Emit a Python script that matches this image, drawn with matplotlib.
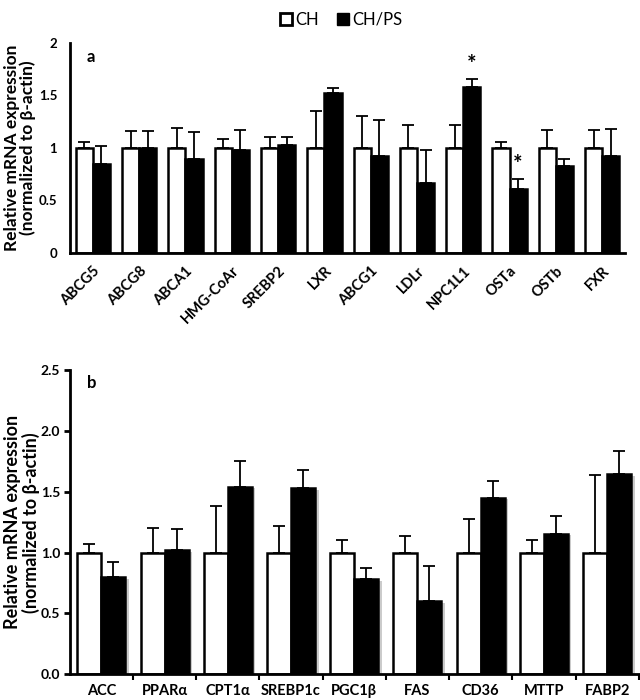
import matplotlib
matplotlib.use('Agg')
import matplotlib.pyplot as plt
import matplotlib.patheffects as pe
from matplotlib.lines import Line2D
import numpy as np

plt.rcParams['font.family'] = ['Lato', 'DejaVu Sans']

# panel a
genes_a = ['ABCG5', 'ABCG8', 'ABCA1', 'HMG-CoAr', 'SREBP2', 'LXR',
           'ABCG1', 'LDLr', 'NPC1L1', 'OSTa', 'OSTb', 'FXR']
ch_a = [1, 1, 1, 1, 1, 1, 1, 1, 1, 1, 1, 1]
ch_a_err = [0.05, 0.16, 0.19, 0.08, 0.10, 0.35, 0.30, 0.22, 0.22, 0.05, 0.17, 0.17]
ps_a = [0.84, 1.00, 0.89, 0.98, 1.03, 1.52, 0.92, 0.66, 1.58, 0.61, 0.83, 0.92]
ps_a_err = [0.18, 0.16, 0.26, 0.19, 0.07, 0.05, 0.34, 0.32, 0.07, 0.09, 0.06, 0.26]
sig_a = [8, 9]

# panel b
genes_b = ['ACC', 'PPAR\u03b1', 'CPT1\u03b1', 'SREBP1c', 'PGC1\u03b2',
           'FAS', 'CD36', 'MTTP', 'FABP2']
ch_b = [1, 1, 1, 1, 1, 1, 1, 1, 1]
ch_b_err = [0.07, 0.20, 0.38, 0.22, 0.10, 0.14, 0.28, 0.10, 0.64]
ps_b = [0.795, 1.02, 1.54, 1.53, 0.78, 0.60, 1.45, 1.155, 1.645]
ps_b_err = [0.125, 0.17, 0.21, 0.15, 0.09, 0.29, 0.14, 0.145, 0.195]

ylab = 'Relative mRNA expression\n(normalized to \u03b2-actin)'

fig = plt.figure(figsize=(6.4, 7), dpi=100)
ax1 = fig.add_axes([0.109, 0.639, 0.868, 0.30])
ax2 = fig.add_axes([0.109, 0.037, 0.889, 0.434])

def draw(ax, genes, ch, ch_err, ps, ps_err, w, shadow=False):
    x = np.arange(len(genes))
    ax.bar(x - w / 2, ch, w, color='white', edgecolor='black', linewidth=1.8,
           yerr=[np.zeros(len(ch)), ch_err], error_kw=dict(ecolor='black', elinewidth=1.3, capsize=4, capthick=1.3))
    bars = ax.bar(x + w / 2, ps, w, color='black', edgecolor='black', linewidth=1.8,
                  yerr=[np.zeros(len(ps)), ps_err], error_kw=dict(ecolor='black', elinewidth=1.3, capsize=4, capthick=1.3))
    if shadow:
        for b in bars:
            b.set_path_effects([pe.SimplePatchShadow(offset=(2.5, -1), shadow_rgbFace='0.6', alpha=0.5), pe.Normal()])
    ax.set_xlim(-0.5, len(genes) - 0.5)
    for s in ['top', 'right']:
        ax.spines[s].set_visible(False)
    for s in ['left', 'bottom']:
        ax.spines[s].set_linewidth(2)
    return x

x1 = draw(ax1, genes_a, ch_a, ch_a_err, ps_a, ps_a_err, 0.37)
ax1.set_ylim(0, 2)
ax1.set_yticks([0, 0.5, 1, 1.5, 2])
ax1.set_yticklabels(['0', '0.5', '1', '1.5', '2'], fontsize=9.5, fontweight='bold')
ax1.tick_params(axis='y', length=0, pad=9)
ax1.set_xticks(x1)
ax1.set_xticklabels(genes_a, rotation=45, ha='right', rotation_mode='anchor',
                    fontsize=10.5, fontweight='bold')
ax1.tick_params(axis='x', length=0, pad=8)
for i in sig_a:
    ax1.text(i + 0.185, ps_a[i] + ps_a_err[i] + 0.04, '*', ha='center', va='bottom',
             fontsize=16, fontweight='bold')
ax1.text(0.03, 0.97, 'a', transform=ax1.transAxes, fontsize=12, fontweight='bold', va='top')
ax1.set_ylabel(ylab, fontsize=12.5, fontweight='bold', linespacing=1.0)
ax1.yaxis.set_label_coords(-0.06, 0.5)

x2 = draw(ax2, genes_b, ch_b, ch_b_err, ps_b, ps_b_err, 0.38, shadow=True)
ax2.set_ylim(0, 2.5)
ax2.set_yticks([0, 0.5, 1.0, 1.5, 2.0, 2.5])
ax2.set_yticklabels(['0.0', '0.5', '1.0', '1.5', '2.0', '2.5'], fontsize=10, fontweight='bold')
ax2.tick_params(axis='y', length=4, width=2, pad=3)
ax2.set_xticks(x2)
ax2.set_xticklabels(genes_b, fontsize=10.5, fontweight='bold')
ax2.set_xticks(np.arange(len(genes_b)) + 0.5, minor=True)
ax2.tick_params(axis='x', which='major', length=0, pad=7)
ax2.tick_params(axis='x', which='minor', length=4, width=1.5)
ax2.text(0.03, 0.985, 'b', transform=ax2.transAxes, fontsize=12, fontweight='bold', va='top')
ax2.set_ylabel(ylab, fontsize=13, fontweight='bold', linespacing=1.0)
ax2.yaxis.set_label_coords(-0.053, 0.5)

handles = [Line2D([], [], marker='s', linestyle='none', markersize=9, markerfacecolor='white',
                  markeredgecolor='black', markeredgewidth=2),
           Line2D([], [], marker='s', linestyle='none', markersize=9, markerfacecolor='black',
                  markeredgecolor='black')]
fig.legend(handles, ['CH', 'CH/PS'], loc='upper center', bbox_to_anchor=(0.53, 1.005), ncol=2,
           frameon=False, fontsize=12, handletextpad=0.0, columnspacing=0.8, handlelength=1.2)

fig.savefig('out.png', dpi=100)
